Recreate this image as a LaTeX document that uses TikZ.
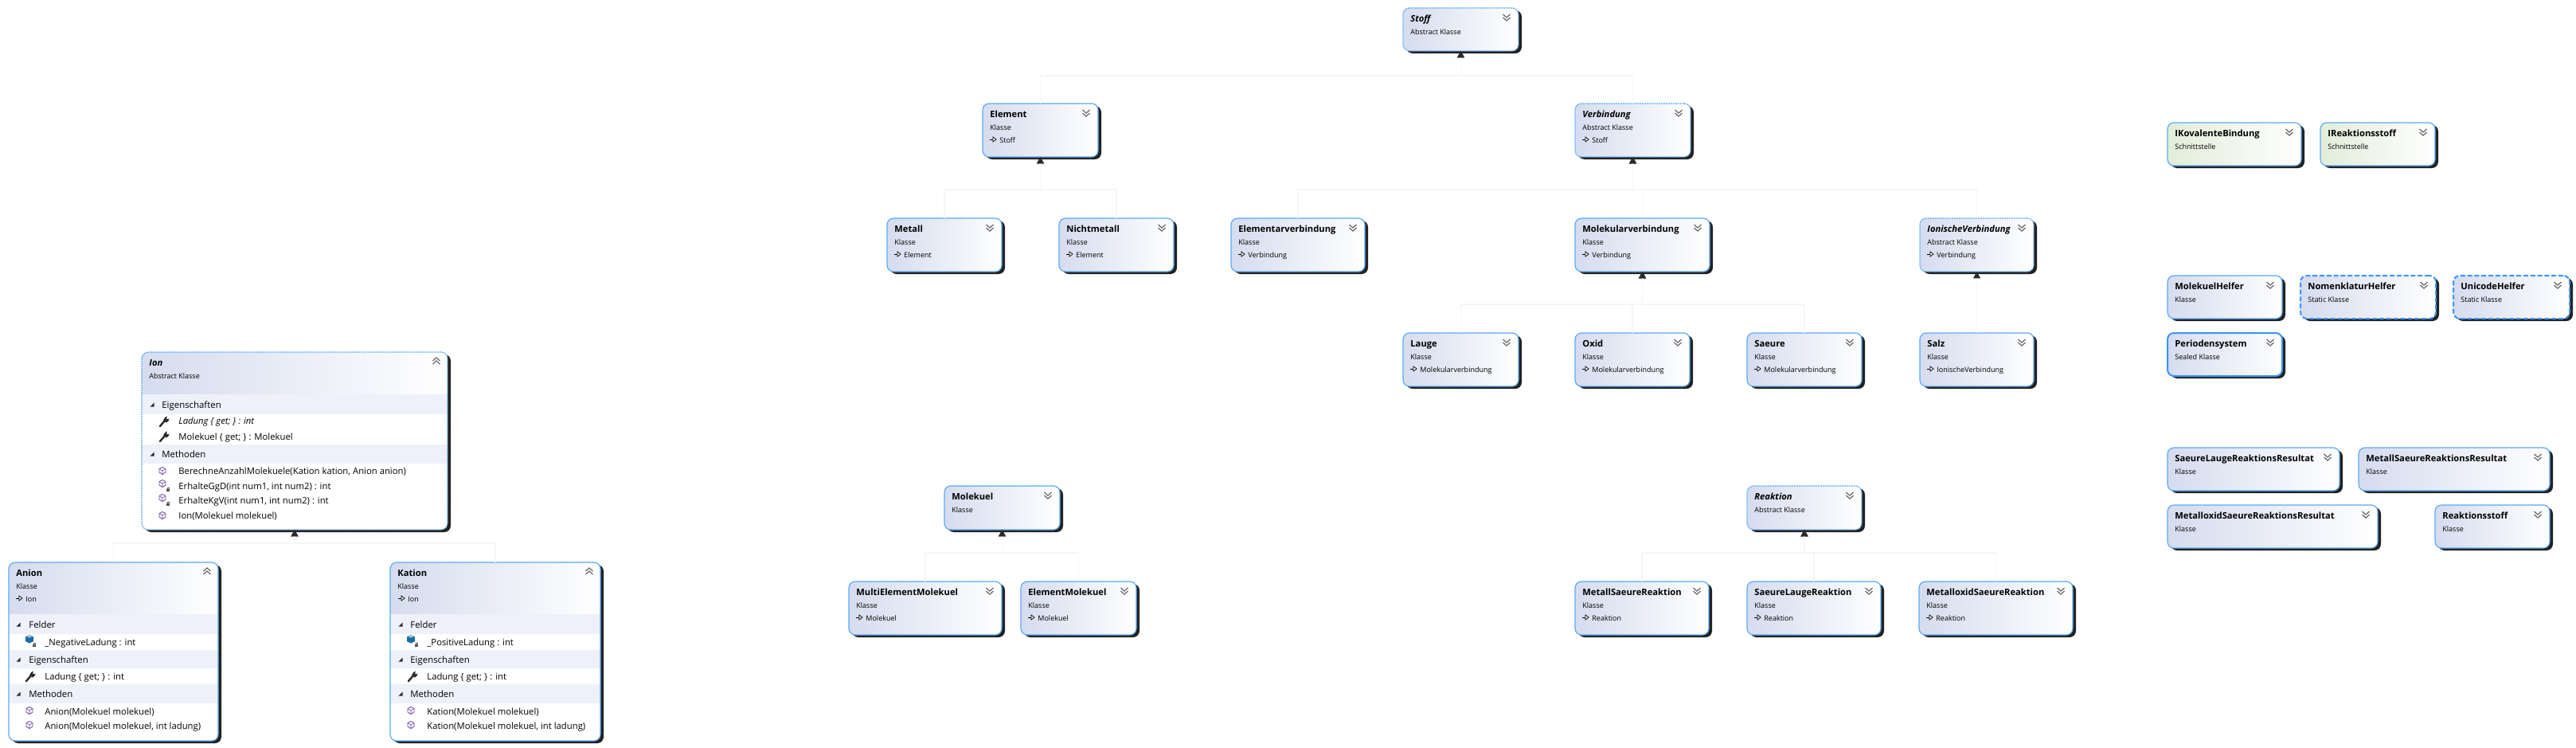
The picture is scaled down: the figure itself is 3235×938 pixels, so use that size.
\documentclass[tikz,border=0pt]{standalone}
\usepackage{fontspec}
\setmainfont{Open Sans}
\usetikzlibrary{arrows.meta,shadows}

\definecolor{classleft}{HTML}{D5DCEE}
\definecolor{faceleft}{HTML}{E2EDD9}
\definecolor{boxline}{HTML}{5AA9FA}
\definecolor{boxlinestrong}{HTML}{3B94FA}
\definecolor{boxshadow}{HTML}{222222}
\definecolor{bandfill}{HTML}{EEF1F9}
\definecolor{busline}{HTML}{F6F6F6}
\definecolor{tipdark}{HTML}{2B2B2B}
\definecolor{chevgray}{HTML}{666666}
\definecolor{methodpurple}{HTML}{6B3FA0}
\definecolor{fieldblue}{HTML}{1B6EA5}

\tikzset{
  boxbase/.style={rectangle,rounded corners=4pt,inner sep=0pt,outer sep=0pt,anchor=north west,
    general shadow={shadow xshift=2pt,shadow yshift=-1.5pt,fill=boxshadow}},
  plainclass/.style={boxbase,draw=boxline,line width=0.6pt,left color=classleft,right color=white},
  abstractclass/.style={plainclass,dash pattern=on 1pt off 0.5pt},
  staticclass/.style={plainclass,draw=boxlinestrong,line width=1pt,dash pattern=on 3pt off 1.4pt},
  sealedclass/.style={plainclass,draw=boxlinestrong,line width=1pt},
  faceclass/.style={plainclass,left color=faceleft},
  memberbox/.style={boxbase,fill=white},
  headfill/.style={rectangle,inner sep=0pt,outer sep=0pt,anchor=north west,left color=classleft,right color=white},
  bandbox/.style={rectangle,inner sep=0pt,outer sep=0pt,anchor=north west,fill=bandfill},
  titletext/.style={inner sep=0pt,anchor=base west,font=\fontsize{5.6pt}{7pt}\selectfont\bfseries},
  kindtext/.style={inner sep=0pt,anchor=base west,font=\fontsize{4.5pt}{6pt}\selectfont},
  membertext/.style={inner sep=0pt,anchor=base west,font=\fontsize{5.65pt}{7pt}\selectfont},
  sectiontext/.style={inner sep=0pt,anchor=base west,font=\fontsize{5.7pt}{7pt}\selectfont},
  inheritline/.style={draw=busline,line width=0.8pt,-{Triangle[width=4.4pt,length=4.2pt,fill=tipdark,color=tipdark]}},
  pics/chevdown/.style={code={
    \draw[chevgray,line width=0.6pt] (-4.5,-4) -- (0,0) -- (4.5,-4);
    \draw[chevgray,line width=0.6pt] (-4.5,0) -- (0,4) -- (4.5,0);}},
  pics/chevup/.style={code={
    \draw[chevgray,line width=0.6pt] (-4.5,0) -- (0,-4) -- (4.5,0);
    \draw[chevgray,line width=0.6pt] (-4.5,4) -- (0,0) -- (4.5,4);}},
  pics/parentmark/.style={code={
    \draw[black,line width=0.35pt] (-4,0) -- (0,0);
    \draw[black,line width=0.35pt,fill=white] (0,-3) -- (4,0) -- (0,3) -- cycle;}},
  pics/sectiontri/.style={code={
    \fill[tipdark] (-2.5,2.5) -- (2.5,2.5) -- (2.5,-2.5) -- cycle;}},
  pics/wrenchicon/.style={code={
    \draw[tipdark,line width=1.2pt,line cap=round] (-5,6) -- (1,-1);
    \fill[tipdark] (-1,-1) -- (1,-5) -- (4,-6.5) -- (3,-3.5) -- (5.5,-2.5) -- (6.5,-4.5) -- (6,-1) -- (3,1.5) -- cycle;}},
  pics/methodicon/.style={code={
    \draw[methodpurple,line width=0.4pt,line join=round] (0,-4.5) -- (4,-2.5) -- (4,2) -- (0,4.5) -- (-4,2) -- (-4,-2.5) -- cycle;
    \draw[methodpurple,line width=0.3pt] (-4,-2.5) -- (0,0) -- (4,-2.5) (0,0) -- (0,4.5);}},
  pics/fieldicon/.style={code={
    \fill[fieldblue] (0,-5) -- (5,-2.5) -- (5,3) -- (0,5.5) -- (-5,3) -- (-5,-2.5) -- cycle;
    \fill[white!70!fieldblue] (-3,-3) -- (0,-4.5) -- (3,-3) -- (0,-1.5) -- cycle;}},
  pics/lockicon/.style={code={
    \fill[tipdark!80] (-2,-0.5) rectangle (2,3);
    \draw[tipdark!80,line width=0.3pt] (-1.2,-0.5) -- (-1.2,-2.2) -- (1.2,-2.2) -- (1.2,-0.5);}}
}

% box with title, kind and the collapse mark
\newcommand{\classbox}[8][plainclass]{
  \node[#1,minimum width=(#5-#3)*0.5pt,minimum height=(#6-#4)*0.5pt] (#2) at (#3,#4) {};
  \node[titletext] (#2-title) at (#3+9,#4+17) {#7};
  \node[kindtext] (#2-kind) at (#3+9,#4+33) {#8};
  \pic at (#5-15,#4+12) {chevdown};
}
% third line of a box: what it inherits from
\newcommand{\parentline}[4]{
  \pic at (#2+13,#3+45) {parentmark};
  \node[kindtext] (#1-parent) at (#2+21,#3+49) {#4};
}

\begin{document}
\begin{tikzpicture}[x=0.5pt,y=-0.5pt]
  \useasboundingbox (0,0) rectangle (3235,938);

  % Stoff tree
  \classbox[abstractclass]{Stoff}{1762}{10}{1907}{64}{\textit{Stoff}}{Abstract Klasse}
  \classbox{Element}{1234}{130}{1379}{197}{Element}{Klasse}
  \parentline{Element}{1234}{130}{Stoff}
  \classbox[abstractclass]{Verbindung}{1978}{130}{2123}{197}{\textit{Verbindung}}{Abstract Klasse}
  \parentline{Verbindung}{1978}{130}{Stoff}
  \classbox{Metall}{1114}{274}{1258}{341}{Metall}{Klasse}
  \parentline{Metall}{1114}{274}{Element}
  \classbox{Nichtmetall}{1330}{274}{1474}{341}{Nichtmetall}{Klasse}
  \parentline{Nichtmetall}{1330}{274}{Element}
  \classbox{Elementarverbindung}{1546}{274}{1714}{341}{Elementarverbindung}{Klasse}
  \parentline{Elementarverbindung}{1546}{274}{Verbindung}
  \classbox{Molekularverbindung}{1978}{274}{2147}{341}{Molekularverbindung}{Klasse}
  \parentline{Molekularverbindung}{1978}{274}{Verbindung}
  \classbox[abstractclass]{IonischeVerbindung}{2411}{274}{2554}{341}{\textit{IonischeVerbindung}}{Abstract Klasse}
  \parentline{IonischeVerbindung}{2411}{274}{Verbindung}
  \classbox{Lauge}{1762}{418}{1907}{485}{Lauge}{Klasse}
  \parentline{Lauge}{1762}{418}{Molekularverbindung}
  \classbox{Oxid}{1978}{418}{2122}{485}{Oxid}{Klasse}
  \parentline{Oxid}{1978}{418}{Molekularverbindung}
  \classbox{Saeure}{2194}{418}{2338}{485}{Saeure}{Klasse}
  \parentline{Saeure}{2194}{418}{Molekularverbindung}
  \classbox{Salz}{2411}{418}{2554}{485}{Salz}{Klasse}
  \parentline{Salz}{2411}{418}{IonischeVerbindung}

  % Molekuel tree
  \classbox{Molekuel}{1186}{610}{1331}{665}{Molekuel}{Klasse}
  \classbox{MultiElementMolekuel}{1066}{730}{1258}{797}{MultiElementMolekuel}{Klasse}
  \parentline{MultiElementMolekuel}{1066}{730}{Molekuel}
  \classbox{ElementMolekuel}{1282}{730}{1427}{797}{ElementMolekuel}{Klasse}
  \parentline{ElementMolekuel}{1282}{730}{Molekuel}

  % Reaktion tree
  \classbox[abstractclass]{Reaktion}{2194}{610}{2338}{665}{\textit{Reaktion}}{Abstract Klasse}
  \classbox{MetallSaeureReaktion}{1978}{730}{2146}{797}{MetallSaeureReaktion}{Klasse}
  \parentline{MetallSaeureReaktion}{1978}{730}{Reaktion}
  \classbox{SaeureLaugeReaktion}{2194}{730}{2362}{797}{SaeureLaugeReaktion}{Klasse}
  \parentline{SaeureLaugeReaktion}{2194}{730}{Reaktion}
  \classbox{MetalloxidSaeureReaktion}{2410}{730}{2603}{797}{MetalloxidSaeureReaktion}{Klasse}
  \parentline{MetalloxidSaeureReaktion}{2410}{730}{Reaktion}

  % loose boxes on the right
  \classbox[faceclass]{IKovalenteBindung}{2722}{154}{2890}{208}{IKovalenteBindung}{Schnittstelle}
  \classbox[faceclass]{IReaktionsstoff}{2914}{154}{3058}{208}{IReaktionsstoff}{Schnittstelle}
  \classbox{MolekuelHelfer}{2722}{346}{2866}{400}{MolekuelHelfer}{Klasse}
  \classbox[staticclass]{NomenklaturHelfer}{2889}{346}{3059}{400}{NomenklaturHelfer}{Static Klasse}
  \classbox[staticclass]{UnicodeHelfer}{3081}{346}{3227}{400}{UnicodeHelfer}{Static Klasse}
  \classbox[sealedclass]{Periodensystem}{2722}{418}{2866}{472}{Periodensystem}{Sealed Klasse}
  \classbox{SaeureLaugeReaktionsResultat}{2722}{562}{2938}{616}{SaeureLaugeReaktionsResultat}{Klasse}
  \classbox{MetallSaeureReaktionsResultat}{2962}{562}{3202}{616}{MetallSaeureReaktionsResultat}{Klasse}
  \classbox{MetalloxidSaeureReaktionsResultat}{2722}{634}{2986}{688}{MetalloxidSaeureReaktionsResultat}{Klasse}
  \classbox{Reaktionsstoff}{3058}{634}{3202}{688}{Reaktionsstoff}{Klasse}

  % Ion
  \node[memberbox,minimum width=192pt,minimum height=111.5pt] (Ion) at (178,442) {};
  \begin{scope}
    \clip[rounded corners=4pt] (178,442) rectangle (562,665);
    \node[headfill,minimum width=192pt,minimum height=26.5pt] (Ion-head) at (178,442) {};
  \end{scope}
  \node[bandbox,minimum width=192pt,minimum height=12.5pt] (Ion-eig) at (178,495) {};
  \node[bandbox,minimum width=192pt,minimum height=12pt] (Ion-met) at (178,558) {};
  \draw[boxline,line width=0.6pt,rounded corners=4pt,dash pattern=on 1pt off 0.5pt] (Ion.north west) rectangle (Ion.south east);
  \pic at (548,453) {chevup};
  \node[titletext] (Ion-title) at (187,459) {\textit{Ion}};
  \node[kindtext] (Ion-kind) at (187,475) {Abstract Klasse};
  \pic at (191,508) {sectiontri};
  \node[sectiontext] (Ion-eig-text) at (203,512) {Eigenschaften};
  \pic at (206,529) {wrenchicon};
  \node[membertext] (Ion-ladung) at (224,532) {\textit{Ladung \{ get; \} : int}};
  \pic at (206,548) {wrenchicon};
  \node[membertext] (Ion-molekuel) at (224,552) {Molekuel \{ get; \} : Molekuel};
  \pic at (191,570) {sectiontri};
  \node[sectiontext] (Ion-met-text) at (203,574) {Methoden};
  \pic at (204,591) {methodicon};
  \node[membertext] (Ion-anzahl) at (224,595) {BerechneAnzahlMolekuele(Kation kation, Anion anion)};
  \pic at (204,607) {methodicon};
  \pic at (211,614) {lockicon};
  \node[membertext] (Ion-ggd) at (224,614) {ErhalteGgD(int num1, int num2) : int};
  \pic at (204,625) {methodicon};
  \pic at (211,632) {lockicon};
  \node[membertext] (Ion-kgv) at (224,632) {ErhalteKgV(int num1, int num2) : int};
  \pic at (204,647) {methodicon};
  \node[membertext] (Ion-ctor) at (224,651) {Ion(Molekuel molekuel)};

  % Anion
  \node[memberbox,minimum width=131.5pt,minimum height=112pt] (Anion) at (11,706) {};
  \begin{scope}
    \clip[rounded corners=4pt] (11,706) rectangle (274,930);
    \node[headfill,minimum width=131.5pt,minimum height=32.5pt] (Anion-head) at (11,706) {};
  \end{scope}
  \node[bandbox,minimum width=131.5pt,minimum height=12.5pt] (Anion-fel) at (11,771) {};
  \node[bandbox,minimum width=131.5pt,minimum height=11.5pt] (Anion-eig) at (11,816) {};
  \node[bandbox,minimum width=131.5pt,minimum height=12pt] (Anion-met) at (11,859) {};
  \draw[boxline,line width=0.6pt,rounded corners=4pt] (Anion.north west) rectangle (Anion.south east);
  \pic at (260,717) {chevup};
  \node[titletext] (Anion-title) at (20,723) {Anion};
  \node[kindtext] (Anion-kind) at (20,739) {Klasse};
  \pic at (24,751) {parentmark};
  \node[kindtext] (Anion-parent) at (32,755) {Ion};
  \pic at (23,784) {sectiontri};
  \node[sectiontext] (Anion-fel-text) at (36,788) {Felder};
  \pic at (37,802) {fieldicon};
  \pic at (43,809) {lockicon};
  \node[membertext] (Anion-feld) at (56,810) {\_NegativeLadung : int};
  \pic at (23,828) {sectiontri};
  \node[sectiontext] (Anion-eig-text) at (36,832) {Eigenschaften};
  \pic at (38,849) {wrenchicon};
  \node[membertext] (Anion-ladung) at (56,853) {Ladung \{ get; \} : int};
  \pic at (23,871) {sectiontri};
  \node[sectiontext] (Anion-met-text) at (36,875) {Methoden};
  \pic at (37,892) {methodicon};
  \node[membertext] (Anion-ctor) at (56,897) {Anion(Molekuel molekuel)};
  \pic at (37,910) {methodicon};
  \node[membertext] (Anion-ctortwo) at (56,915) {Anion(Molekuel molekuel, int ladung)};

  % Kation
  \node[memberbox,minimum width=132pt,minimum height=112pt] (Kation) at (490,706) {};
  \begin{scope}
    \clip[rounded corners=4pt] (490,706) rectangle (754,930);
    \node[headfill,minimum width=132pt,minimum height=32.5pt] (Kation-head) at (490,706) {};
  \end{scope}
  \node[bandbox,minimum width=132pt,minimum height=12.5pt] (Kation-fel) at (490,771) {};
  \node[bandbox,minimum width=132pt,minimum height=11.5pt] (Kation-eig) at (490,816) {};
  \node[bandbox,minimum width=132pt,minimum height=12pt] (Kation-met) at (490,859) {};
  \draw[boxline,line width=0.6pt,rounded corners=4pt] (Kation.north west) rectangle (Kation.south east);
  \pic at (740,717) {chevup};
  \node[titletext] (Kation-title) at (499,723) {Kation};
  \node[kindtext] (Kation-kind) at (499,739) {Klasse};
  \pic at (504,751) {parentmark};
  \node[kindtext] (Kation-parent) at (512,755) {Ion};
  \pic at (503,784) {sectiontri};
  \node[sectiontext] (Kation-fel-text) at (515,788) {Felder};
  \pic at (516,802) {fieldicon};
  \pic at (523,809) {lockicon};
  \node[membertext] (Kation-feld) at (536,810) {\_PositiveLadung : int};
  \pic at (503,828) {sectiontri};
  \node[sectiontext] (Kation-eig-text) at (515,832) {Eigenschaften};
  \pic at (518,849) {wrenchicon};
  \node[membertext] (Kation-ladung) at (536,853) {Ladung \{ get; \} : int};
  \pic at (503,871) {sectiontri};
  \node[sectiontext] (Kation-met-text) at (515,875) {Methoden};
  \pic at (516,892) {methodicon};
  \node[membertext] (Kation-ctor) at (536,897) {Kation(Molekuel molekuel)};
  \pic at (516,910) {methodicon};
  \node[membertext] (Kation-ctortwo) at (536,915) {Kation(Molekuel molekuel, int ladung)};

  % inheritance lines
  \coordinate (stoffbus) at (Stoff.south |- 0,95);
  \coordinate (elementbus) at (Element.south |- 0,238);
  \coordinate (verbindungbus) at (Verbindung.south |- 0,238);
  \coordinate (molekularbus) at (Molekularverbindung.south |- 0,382);
  \coordinate (molekuelbus) at (Molekuel.south |- 0,694);
  \coordinate (reaktionbus) at (Reaktion.south |- 0,694);
  \coordinate (ionbus) at (Ion.south |- 0,682);

  \draw[inheritline] (Element.north) |- (stoffbus) -- (Stoff.south);
  \draw[inheritline] (Verbindung.north) |- (stoffbus) -- (Stoff.south);
  \draw[inheritline] (Metall.north) |- (elementbus) -- (Element.south);
  \draw[inheritline] (Nichtmetall.north) |- (elementbus) -- (Element.south);
  \draw[inheritline] (Elementarverbindung.north) |- (verbindungbus) -- (Verbindung.south);
  \draw[inheritline] (Molekularverbindung.north) |- (verbindungbus) -- (Verbindung.south);
  \draw[inheritline] (IonischeVerbindung.north) |- (verbindungbus) -- (Verbindung.south);
  \draw[inheritline] (Lauge.north) |- (molekularbus) -- (Molekularverbindung.south);
  \draw[inheritline] (Oxid.north) |- (molekularbus) -- (Molekularverbindung.south);
  \draw[inheritline] (Saeure.north) |- (molekularbus) -- (Molekularverbindung.south);
  \draw[inheritline] (Salz.north) -- (IonischeVerbindung.south);
  \draw[inheritline] (MultiElementMolekuel.north) |- (molekuelbus) -- (Molekuel.south);
  \draw[inheritline] (ElementMolekuel.north) |- (molekuelbus) -- (Molekuel.south);
  \draw[inheritline] (MetallSaeureReaktion.north) |- (reaktionbus) -- (Reaktion.south);
  \draw[inheritline] (SaeureLaugeReaktion.north) |- (reaktionbus) -- (Reaktion.south);
  \draw[inheritline] (MetalloxidSaeureReaktion.north) |- (reaktionbus) -- (Reaktion.south);
  \draw[inheritline] (Anion.north) |- (ionbus) -- (Ion.south);
  \draw[inheritline] (Kation.north) |- (ionbus) -- (Ion.south);

\end{tikzpicture}
\end{document}
